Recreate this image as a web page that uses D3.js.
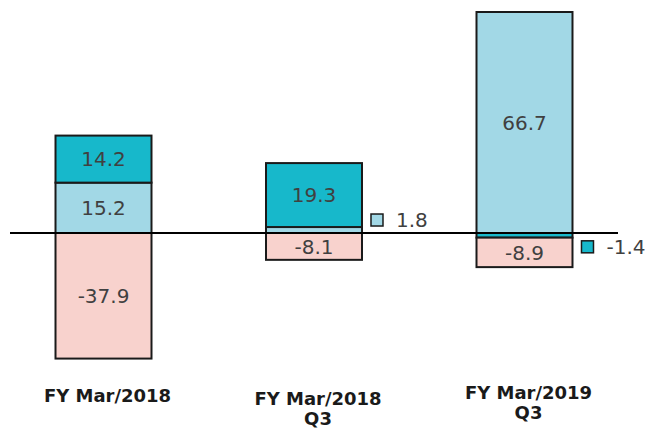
<!doctype html>
<html lang="en">
<head>
  <meta charset="UTF-8">
  <title>Stacked bars</title>
  <script src="https://cdn.jsdelivr.net/npm/d3@7"></script>
  <style>
    body { margin: 0; background: #fff; }
    svg { display: block; font-family: "DejaVu Sans", Verdana, sans-serif; }
  </style>
</head>
<body>
<div id="chart"></div>
<script>
  // data
  var categories = ["FY Mar/2018", "FY Mar/2018 Q3", "FY Mar/2019 Q3"];
  var catLines   = [["FY Mar/2018"], ["FY Mar/2018", "Q3"], ["FY Mar/2019", "Q3"]];
  var seriesKeys = ["light", "teal", "pink"];
  var lightVals  = [15.2, 1.8, 66.7];
  var tealVals   = [14.2, 19.3, -1.4];
  var pinkVals   = [-37.9, -8.1, -8.9];

  var colors = { light: "#a2d8e6", teal: "#17b8cb", pink: "#f8d2cd" };

  var width = 650, height = 429;
  var zeroY = 233, pxPerUnit = 221 / 66.7;

  var rows = categories.map(function (c, i) {
    return { cat: c, light: lightVals[i], teal: tealVals[i], pink: pinkVals[i] };
  });

  var stack = d3.stack().keys(seriesKeys).offset(d3.stackOffsetDiverging);
  var layers = stack(rows);

  var x = d3.scaleBand()
      .domain(categories)
      .range([-59, 687])
      .padding(0.544);

  var y = d3.scaleLinear()
      .domain([-60, 70])
      .range([zeroY + 60 * pxPerUnit, zeroY - 70 * pxPerUnit]);

  var svg = d3.select("#chart").append("svg")
      .attr("width", width)
      .attr("height", height);

  var g = svg.append("g");

  layers.forEach(function (layer) {
    var key = layer.key;
    g.selectAll(".bar-" + key)
      .data(layer)
      .enter().append("rect")
        .attr("x", function (d) { return x(d.data.cat); })
        .attr("y", function (d) { return y(Math.max(d[0], d[1])); })
        .attr("width", x.bandwidth())
        .attr("height", function (d) { return Math.abs(y(d[0]) - y(d[1])); })
        .style("fill", colors[key])
        .style("stroke", "#1a1a1a")
        .style("stroke-width", 2);
  });

  // zero line
  svg.append("line")
      .attr("x1", 10).attr("x2", 618)
      .attr("y1", y(0)).attr("y2", y(0))
      .style("stroke", "#000")
      .style("stroke-width", 2);

  // value labels (plain hyphen for negatives, like the source)
  function fmt(v) { return v.toFixed(1); }

  layers.forEach(function (layer) {
    var key = layer.key;
    layer.forEach(function (d) {
      var v = d.data[key];
      var y0 = y(d[0]), y1 = y(d[1]);
      var mid = (y0 + y1) / 2;
      var h = Math.abs(y0 - y1);
      if (h > 20) {
        svg.append("text")
          .attr("x", x(d.data.cat) + x.bandwidth() / 2)
          .attr("y", mid)
          .attr("dy", "0.36em")
          .attr("text-anchor", "middle")
          .style("font-size", "20px")
          .style("fill", "#404040")
          .text(fmt(v));
      } else {
        // small segment: marker square beside bar
        var cy = mid - (v >= 0 ? 10 : -11.5);
        var sx = x(d.data.cat) + x.bandwidth() + 9;
        svg.append("rect")
          .attr("x", sx).attr("y", cy - 6)
          .attr("width", 12).attr("height", 12)
          .style("fill", colors[key])
          .style("stroke", "#1a1a1a")
          .style("stroke-width", 1.5);
        svg.append("text")
          .attr("x", sx + 25)
          .attr("y", cy)
          .attr("dy", "0.36em")
          .style("font-size", "20px")
          .style("fill", "#404040")
          .text(fmt(v));
      }
    });
  });

  // category labels
  var labelBase = [402, 405, 399];
  catLines.forEach(function (lines, i) {
    var t = svg.append("text")
      .attr("text-anchor", "middle")
      .style("font-size", "18px")
      .style("font-weight", "bold")
      .style("fill", "#1a1a1a");
    lines.forEach(function (ln, j) {
      t.append("tspan")
        .attr("x", x(categories[i]) + x.bandwidth() / 2 + 4)
        .attr("y", labelBase[i] + j * 20)
        .text(ln);
    });
  });
</script>
</body>
</html>
